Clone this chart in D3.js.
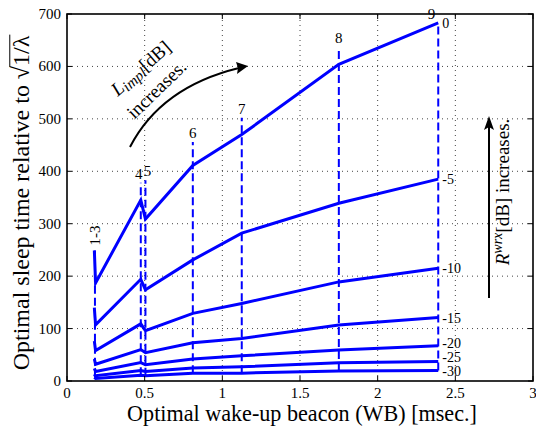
<!DOCTYPE html>
<html><head><meta charset="utf-8">
<script src="https://cdn.jsdelivr.net/npm/d3@7"></script>
<style>body{margin:0;background:#fff}svg{display:block}</style>
</head><body><svg id="c" width="536" height="432"></svg>
<script>
// ---- data ----
const wbX = [0.176, 0.180, 0.184, 0.475, 0.505, 0.81, 1.125, 1.75, 2.39];
const rwrxLabels = ["0", "-5", "-10", "-15", "-20", "-25", "-30"];
const sleep0   = [249, 218, 187, 345, 309, 411, 470, 604, 683];
const sleepM5  = [140, 123, 107, 194, 174, 231, 282, 339, 385];
const sleepM10 = [76, 67, 58, 109, 96, 129, 148, 189, 215];
const sleepM15 = [42, 37, 32, 60, 54, 73, 81, 107, 121];
const sleepM20 = [24, 21, 18, 35, 31, 42, 48, 59, 67];
const sleepM25 = [13, 11, 10, 20, 18, 25, 27, 35, 37];
const sleepM30 = [7, 6, 5, 11, 10, 15, 15, 19, 20];
const markerIdx = [1, 3, 4, 5, 6, 7, 8];
const markerLabels = ["1-3", "4", "5", "6", "7", "8", "9"];
const markerTop = [249, 378, 383, 456, 502, 637, 683];
const xTicks = [0, 0.5, 1, 1.5, 2, 2.5, 3];
const xTickLabels = ["0", "0.5", "1", "1.5", "2", "2.5", "3"];
const yTicks = [0, 100, 200, 300, 400, 500, 600, 700];
const yTickLabels = ["0", "100", "200", "300", "400", "500", "600", "700"];

const series = [sleep0, sleepM5, sleepM10, sleepM15, sleepM20, sleepM25, sleepM30];

// ---- layout ----
const svg = d3.select("#c");
const L = 67, R = 533, T = 14, B = 381;
const x = d3.scaleLinear().domain([0, 3]).range([L, R]);
const y = d3.scaleLinear().domain([0, 700]).range([B, T]);
const FONT = "'Liberation Serif', 'Times New Roman', serif";
const BLUE = "#0000ff";

// grid
const grid = svg.append("g").attr("stroke", "#444").attr("stroke-width", 1)
  .attr("stroke-dasharray", "1,4").attr("fill", "none");
xTicks.slice(1, -1).forEach(t => grid.append("line")
  .attr("x1", x(t)).attr("x2", x(t)).attr("y1", B).attr("y2", T));
yTicks.slice(1, -1).forEach(t => grid.append("line")
  .attr("x1", L).attr("x2", R).attr("y1", y(t)).attr("y2", y(t)));

// dashed marker lines
const mk = svg.append("g");
markerIdx.forEach((idx, i) => {
  const xv = wbX[idx];
  mk.append("line")
    .attr("x1", x(xv)).attr("x2", x(xv))
    .attr("y1", y(sleepM30[idx])).attr("y2", y(markerTop[i]))
    .attr("stroke", BLUE).attr("stroke-width", 2)
    .attr("stroke-dasharray", "8,4");
  if (markerLabels[i] === "1-3") {
    mk.append("text")
      .attr("transform", `translate(${x(xv) + 5},${y(markerTop[i]) - 5}) rotate(-90)`)
      .attr("text-anchor", "start")
      .attr("font-family", FONT).attr("font-size", 15)
      .text(markerLabels[i]);
  } else {
    const last = i === markerIdx.length - 1;
    mk.append("text")
      .attr("x", last ? x(xv) - 3 : x(xv) + (markerLabels[i] === "4" ? -2 : (markerLabels[i] === "5" ? 2 : 0)))
      .attr("y", y(markerTop[i]) - 4)
      .attr("text-anchor", last ? "end" : "middle")
      .attr("font-family", FONT).attr("font-size", 15)
      .text(markerLabels[i]);
  }
});

// curves
const line = d3.line().x((d, i) => x(wbX[i])).y(d => y(d));
svg.append("g").selectAll("path").data(series).join("path")
  .attr("d", line).attr("fill", "none").attr("stroke", BLUE)
  .attr("stroke-width", 3).attr("stroke-linejoin", "miter");

// right labels with simple collision avoidance
const lastI = wbX.length - 1;
let prevY = Infinity;
const labPos = series.map(s => y(s[lastI]) + 5).reverse().map(v => {
  const yy = Math.min(v, prevY - 14); prevY = yy; return yy;
}).reverse();
series.forEach((s, i) => {
  svg.append("text")
    .attr("x", x(wbX[lastI]) + 4).attr("y", labPos[i])
    .attr("font-family", FONT).attr("font-size", 14)
    .text(rwrxLabels[i]);
});

// frame
svg.append("rect").attr("x", L).attr("y", T).attr("width", R - L).attr("height", B - T)
  .attr("fill", "none").attr("stroke", "#000").attr("stroke-width", 1.6);

// ticks (inward on all sides)
const tk = svg.append("g").attr("stroke", "#000").attr("stroke-width", 1);
xTicks.forEach(t => {
  tk.append("line").attr("x1", x(t)).attr("x2", x(t)).attr("y1", B).attr("y2", B - 5);
  tk.append("line").attr("x1", x(t)).attr("x2", x(t)).attr("y1", T).attr("y2", T + 5);
});
yTicks.forEach(t => {
  tk.append("line").attr("x1", L).attr("x2", L + 5).attr("y1", y(t)).attr("y2", y(t));
  tk.append("line").attr("x1", R).attr("x2", R - 5).attr("y1", y(t)).attr("y2", y(t));
});

// tick labels
xTicks.forEach((t, i) => svg.append("text")
  .attr("x", x(t)).attr("y", B + 17).attr("text-anchor", "middle")
  .attr("font-family", FONT).attr("font-size", 15).text(xTickLabels[i]));
yTicks.forEach((t, i) => svg.append("text")
  .attr("x", L - 6).attr("y", y(t) + 5).attr("text-anchor", "end")
  .attr("font-family", FONT).attr("font-size", 15).text(yTickLabels[i]));

// helper to fit font size to target width
function fit(textSel, target, base) {
  textSel.attr("font-size", base);
  const w = textSel.node().getComputedTextLength();
  const fs = base * target / w;
  textSel.attr("font-size", fs);
  return fs;
}

// x title
const xt = svg.append("text").attr("x", 302).attr("y", 421).attr("text-anchor", "middle")
  .attr("font-family", FONT).text("Optimal wake-up beacon (WB) [msec.]");
fit(xt, 350, 20);

// y title with sqrt
const yg = svg.append("g").attr("transform", "translate(29,203) rotate(-90)");
const yt = yg.append("text").attr("font-family", FONT).attr("x", 0).attr("y", 0);
const t0 = yt.append("tspan").text("Optimal sleep time relative to ");
const t1 = yt.append("tspan").text("\u221A");
const t2 = yt.append("tspan").text("1/\u03BB");
const fsY = fit(yt, 335, 20);
const totalW = yt.node().getComputedTextLength();
yt.attr("x", -totalW / 2);
const w0 = t0.node().getComputedTextLength();
const w1 = t1.node().getComputedTextLength();
const w2 = t2.node().getComputedTextLength();
const startX = -totalW / 2 + w0 + w1;
yg.append("line")
  .attr("x1", startX - 1).attr("x2", startX + w2 + 1)
  .attr("y1", -fsY * 0.8).attr("y2", -fsY * 0.8)
  .attr("stroke", "#000").attr("stroke-width", 1);

// L_impl annotation
const ag = svg.append("g");
ag.append("path")
  .attr("d", `M130,147 Q161,87 239,68`)
  .attr("fill", "none").attr("stroke", "#000").attr("stroke-width", 2);
ag.append("path")
  .attr("d", "M248,66 L236,62 L238,68 L237,74 Z")
  .attr("fill", "#000");
const lt = ag.append("text")
  .attr("transform", "translate(145,73) rotate(-41)")
  .attr("text-anchor", "middle").attr("font-family", FONT).attr("font-size", 19);
lt.append("tspan").attr("font-style", "italic").text("L");
lt.append("tspan").attr("font-style", "italic").attr("font-size", 15).attr("dy", 3).text("impl");
lt.append("tspan").attr("dy", -3).text("[dB]");
ag.append("text")
  .attr("transform", "translate(161,94) rotate(-44)")
  .attr("text-anchor", "middle").attr("font-family", FONT).attr("font-size", 19)
  .text("increases.");

// R^wrx annotation
svg.append("line").attr("x1", 489).attr("x2", 489).attr("y1", 298).attr("y2", 126)
  .attr("stroke", "#000").attr("stroke-width", 2);
svg.append("path").attr("d", "M489,116 L484,130 L489,127 L494,130 Z").attr("fill", "#000");
const rt = svg.append("text")
  .attr("transform", "translate(509,192) rotate(-90)")
  .attr("text-anchor", "middle").attr("font-family", FONT).attr("font-size", 19);
rt.append("tspan").attr("font-style", "italic").text("R");
rt.append("tspan").attr("font-style", "italic").attr("font-size", 14).attr("dy", -7).text("wrx");
rt.append("tspan").attr("dy", 7).text("[dB] increases.");
</script></body></html>
